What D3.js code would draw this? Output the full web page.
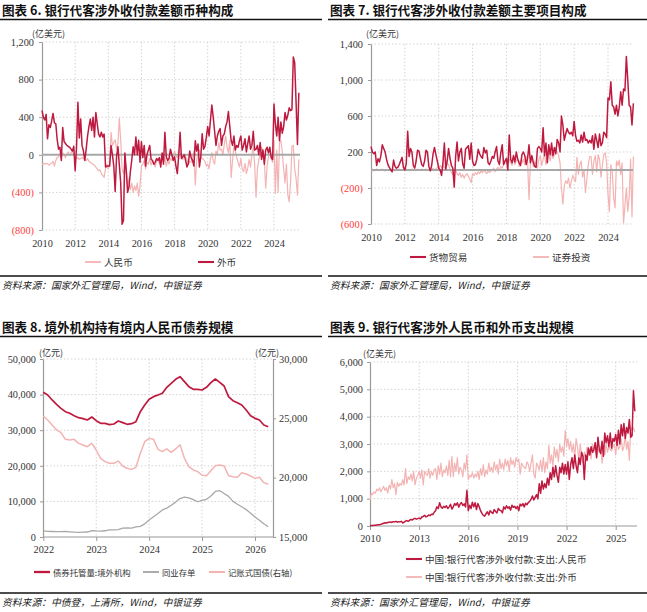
<!DOCTYPE html>
<html><head><meta charset="utf-8">
<script src="https://cdn.jsdelivr.net/npm/d3@7"></script>
<style>body{margin:0;background:#fff}</style>
</head><body><svg id="c" width="647" height="612"></svg>
<script>
// ---------------- DATA ----------------
// Panel 1 (monthly, 2010-01 .. 2025-07), 亿美元
const p1Rmb = [
 -100,-90,-100,-90,-95,-110,-100,-90,-70,-120,-60,-30,
 -20,10,-40,20,0,-30,10,30,-10,20,40,0,
 -20,-40,-30,-50,-40,-30,-40,-50,-60,-40,-70,-80,
 -90,-100,-110,-130,-150,-170,-160,-200,-220,-240,-150,-100,
 -150,-100,240,100,130,160,60,120,390,150,-150,-200,
 -100,-150,-330,-250,-370,-300,-400,-330,-380,-300,-440,-330,
 -120,-100,-60,-150,-80,-100,-40,-110,-60,-90,-130,-60,
 -50,-100,-60,0,-80,-30,-120,-60,-100,-40,-60,-20,
 40,-10,-30,50,20,-20,-50,0,-20,-50,-100,-70,
 -80,-20,40,-320,-60,20,50,-30,-40,-50,-70,-120,
 -100,-150,-40,20,-60,-100,40,0,130,50,60,0,
 110,200,80,20,150,-240,-60,100,40,-30,-80,-130,
 -40,-150,-180,-90,-200,-140,-50,-130,0,80,-100,-450,
 -150,-50,0,80,40,-60,-355,-120,-20,80,-40,-80,
 150,-410,50,-400,130,150,40,-150,-300,-100,-420,-500,
 -300,90,100,-150,-250,-430,-50
];
const p1Fx = [
 470,400,370,430,170,320,290,360,440,340,330,160,
 60,80,-60,290,140,120,100,90,80,60,40,90,
 -170,80,560,180,380,100,40,-60,60,200,300,380,
 260,400,190,450,330,220,190,240,190,220,-130,-120,
 -120,-120,100,0,-120,-390,-20,85,-110,-300,-740,-700,
 20,-160,-400,-340,-180,-55,85,0,190,0,155,-80,
 140,-30,100,-120,0,50,100,-50,-60,-100,-80,-40,
 -60,-30,-130,20,-100,240,-20,-60,-40,60,0,-60,
 -20,-120,-200,-10,240,-40,-20,0,-60,-130,-90,40,
 -30,-60,-120,150,40,115,-130,-20,225,60,90,185,
 300,200,370,530,400,250,100,200,250,280,100,200,
 220,300,350,460,300,150,100,200,50,100,80,150,
 200,50,100,170,30,120,200,60,100,250,50,60,
 100,0,130,-50,50,-100,50,80,20,80,-30,-50,
 540,330,200,400,150,350,230,300,450,370,420,500,
 470,480,1040,980,560,110,660
];
const p1YTicks = [-800,-400,0,400,800,1200];
const p1XTicks = [2010,2012,2014,2016,2018,2020,2022,2024];

// Panel 2 (monthly, 2010-01 .. 2025-07), 亿美元
const p2Goods = [
 260,200,180,200,50,125,90,160,280,240,200,120,
 60,30,0,-20,110,40,20,30,60,100,140,30,
 0,70,430,150,240,200,50,20,100,220,210,130,
 60,40,100,220,200,40,-10,50,180,250,170,100,
 20,0,-60,80,300,10,100,240,130,50,20,-190,
 150,310,100,200,240,70,20,230,250,270,120,300,
 100,50,60,120,230,180,150,130,250,190,220,80,
 60,100,150,130,200,260,100,60,190,280,60,100,
 130,0,390,120,80,160,90,200,120,80,50,170,
 200,160,60,130,280,80,160,90,40,30,240,260,
 240,200,470,160,300,80,280,170,300,160,250,180,
 340,300,200,600,500,330,400,460,420,400,420,380,
 540,380,320,330,300,390,310,420,330,340,300,330,
 300,380,230,400,330,250,400,270,300,420,400,360,
 800,780,980,720,700,620,720,600,700,870,720,900,
 880,1260,1000,720,700,500,740
];
const p2Sec = [
 0,10,-10,0,10,5,-5,0,10,0,-10,0,
 5,0,-5,10,0,-10,5,0,10,0,-5,10,
 0,10,0,-5,5,10,0,5,-5,10,0,5,
 10,0,5,10,-5,0,10,5,20,0,10,30,
 20,50,30,60,20,40,70,60,10,-30,-50,0,
 0,-40,-60,-30,-80,-50,-90,-60,-40,-70,-100,-140,
 -40,-60,-30,-50,-20,-40,-10,-30,0,-20,-40,-10,
 -30,-10,0,20,-20,10,30,0,40,20,60,80,
 100,70,120,80,50,150,60,100,130,40,110,80,
 120,60,150,90,-330,80,130,40,100,60,20,120,
 160,50,120,180,60,140,190,100,200,130,170,220,
 200,160,80,-200,-380,-180,-120,-150,-90,-200,-130,-60,
 -100,-130,140,-50,60,100,-80,0,-250,-100,60,150,
 150,-50,100,160,-20,170,120,-80,50,170,190,80,
 -270,-460,60,-20,-300,-420,100,50,110,-50,80,-590,
 -400,-200,-460,-300,120,-520,150
];
const p2YTicks = [-600,-200,200,600,1000,1400];
const p2XTicks = [2010,2012,2014,2016,2018,2020,2022,2024];

// Panel 3 (monthly, 2022-01 .. 2026-04), 亿元
const p3Custody = [
 40640,39900,38500,37270,36140,35200,34740,34080,33520,33240,32860,33700,
 32680,31930,31930,31550,31740,32580,32120,31650,31840,32400,35200,37080,
 38670,39420,39890,40360,42040,43160,44290,45040,43630,42230,41480,41480,
 41290,42040,43350,44380,43450,42420,39420,38300,37730,37080,35670,34080,
 33330,32870,31460,30990
];
const p3Ncd = [
 1700,1600,1550,1500,1500,1550,1450,1350,1300,1350,1400,1800,
 1700,1650,1750,2000,2000,2050,2500,2550,2500,2850,3000,3700,
 4800,5700,6600,7600,8100,8900,9800,10800,11200,11000,10500,9900,
 10300,10600,11500,12800,13000,12200,11400,10000,9200,8500,7700,6700,
 5600,4700,3700,2900
];
const p3Tbond = [
 25200,24860,24440,24020,23790,23230,23170,23230,22890,22750,22610,22890,
 22330,21630,21350,21210,21210,21400,20980,20790,20700,20870,22050,23030,
 23310,23230,22390,22190,22420,22130,22420,22780,21630,20930,20650,20510,
 20200,20170,20590,21010,21070,20980,20170,20080,20030,20420,20310,20140,
 19940,20030,19580,19440
];
const p3YTicksL = [0,10000,20000,30000,40000,50000];
const p3YTicksR = [15000,20000,25000,30000];
const p3XTicks = [2022,2023,2024,2025,2026];

// Panel 4 (monthly, 2010-01 .. 2026-03), 亿美元
const p4Rmb = [
 10,15,20,25,30,40,45,50,60,80,100,120,
 110,130,140,150,130,160,150,170,140,160,150,170,
 110,140,180,200,170,210,240,220,260,280,250,270,
 290,260,330,350,390,330,360,400,380,430,420,500,
 560,700,640,850,700,650,720,680,740,640,700,790,
 620,700,820,760,850,690,800,860,750,810,700,1310,
 560,760,640,870,700,850,600,820,700,560,460,390,
 360,450,520,400,560,500,460,600,530,480,640,580,
 560,480,700,620,740,650,700,580,760,680,720,640,
 720,560,800,740,820,700,830,780,860,900,980,1100,
 950,1050,1150,1000,1550,1200,1650,1350,1550,1400,1750,1500,
 1950,1700,2150,1800,2200,1850,1600,2150,1950,2300,1900,2250,
 1900,2350,1700,2250,2500,2100,2600,2200,1950,2500,2250,2700,
 2550,1700,2600,2400,2850,2600,2900,2700,2800,3050,2500,3250,
 2800,2650,3100,2550,3400,3050,3300,2900,3400,2850,3200,3100,
 3350,2950,3500,3000,3700,3300,3750,3200,3600,3400,3900,3250,
 3300,4950,4200
];
const p4Fx = [
 950,1200,1150,1250,1200,1350,1300,1400,1250,1350,1450,1300,
 1400,1200,1500,1350,1700,1400,1550,1150,1600,1450,1550,1500,
 1700,1500,2100,1550,1800,1700,1900,1650,2000,1500,1750,1850,
 2000,1750,2050,1500,2000,1900,1850,2100,1750,2000,1850,2050,
 2100,1700,2200,1900,2300,1800,2050,1950,2200,1850,2400,1800,
 2550,1800,2300,2000,2500,1900,2150,2050,1800,2300,2050,2600,
 1700,1850,1800,1950,1750,1900,1800,2000,1700,2100,1850,2250,
 1800,2050,1900,2300,2000,2150,1950,2350,2050,2250,1900,2450,
 2100,2300,2050,2450,2200,2400,2000,2500,2250,2400,2150,2500,
 2350,2450,1900,2300,2200,2150,2100,2350,2250,2000,2300,2600,
 1900,1750,2300,2200,2050,2400,2000,2500,1950,2350,2100,2950,
 2300,2600,2200,2900,2500,2800,2350,3000,2700,2900,2550,3500,
 2900,3200,2800,3100,2700,3000,2500,3200,2900,2400,3000,2600,
 2300,2700,2500,2900,2600,2800,2450,3000,2700,2900,2500,2800,
 2700,2900,2300,2800,2600,3000,2700,2900,2800,2750,2900,3000,
 2600,3100,2800,2900,3200,2750,2900,3300,2800,3100,2400,3600,
 3500,3600,3450
];
const p4YTicks = [0,1000,2000,3000,4000,5000,6000];
const p4XTicks = [2010,2013,2016,2019,2022,2025];

// ---------------- STYLE ----------------
const DARK = "#be1a3f", LIGHT = "#f4b3b3", GRAY = "#a8a8a8";
const CJK = "'Noto Sans CJK SC', sans-serif";
const NUM = "'Liberation Serif', 'Times New Roman', serif";
const GRID = "#d4d4d4";

const svg = d3.select("#c");
svg.append("rect").attr("width",647).attr("height",612).attr("fill","#fff");

const series = (start, arr) => arr.map((v,i) => ({t: start + i/12, v}));
const fmtParen = v => v < 0 ? "(" + d3.format(",")(-v) + ")" : d3.format(",")(v);

function frame(x0, x1, yTitle, title, yBottom, source) {
  svg.append("text").attr("x", x0 + 2).attr("y", yTitle).text(title)
    .attr("font-family", CJK).attr("font-weight", "bold").attr("font-size", 12.6).attr("fill", "#111");
  svg.append("line").attr("x1", x0).attr("x2", x1).attr("y1", yTitle + 4.5).attr("y2", yTitle + 4.5)
    .attr("stroke", "#111").attr("stroke-width", 1.5);
  svg.append("line").attr("x1", x0).attr("x2", x1).attr("y1", yBottom).attr("y2", yBottom)
    .attr("stroke", "#111").attr("stroke-width", 1.3);
  svg.append("text").attr("x", x0 + 2).attr("y", yBottom + 13).text(source)
    .attr("font-family", CJK).attr("font-style", "italic").attr("font-size", 9.8).attr("fill", "#222");
}

function hGrid(ticks, y, xa, xb) {
  svg.append("g").selectAll("line").data(ticks).join("line")
    .attr("x1", xa).attr("x2", xb).attr("y1", d => y(d)).attr("y2", d => y(d))
    .attr("stroke", GRID).attr("stroke-width", 1).attr("stroke-dasharray", "1.5,2");
}
function vGrid(ticks, x, ya, yb) {
  svg.append("g").selectAll("line").data(ticks).join("line")
    .attr("x1", d => x(d)).attr("x2", d => x(d)).attr("y1", ya).attr("y2", yb)
    .attr("stroke", GRID).attr("stroke-width", 1).attr("stroke-dasharray", "1.5,2");
}
function styleAxis(g, negRed) {
  g.select(".domain").attr("stroke", "#9a9a9a").attr("stroke-width", 1.2);
  g.selectAll(".tick line").attr("stroke", "#9a9a9a");
  g.selectAll(".tick text").attr("font-family", NUM).attr("font-size", 10.3).attr("fill", d => (negRed && d < 0) ? "#ff3b3b" : "#333");
}
function drawLine(data, x, y, color, w) {
  svg.append("path").datum(data).attr("fill", "none").attr("stroke", color).attr("stroke-width", w)
    .attr("stroke-linejoin", "round")
    .attr("d", d3.line().x(d => x(d.t)).y(d => y(d.v)));
}
function legendItem(x, y, color, w, label, fs) {
  svg.append("line").attr("x1", x).attr("x2", x + 16).attr("y1", y).attr("y2", y)
    .attr("stroke", color).attr("stroke-width", w + 0.6);
  svg.append("text").attr("x", x + 19).attr("y", y + 3.5).text(label)
    .attr("font-family", CJK).attr("font-size", fs || 9.6).attr("fill", "#333");
}
function unitLabel(x, y, t, anchor) {
  svg.append("text").attr("x", x).attr("y", y).text(t).attr("text-anchor", anchor || "start")
    .attr("font-family", CJK).attr("font-size", 9).attr("fill", "#333");
}

// ---------------- PANEL 1 ----------------
{
  frame(0, 322, 15, "图表 6. 银行代客涉外收付款差额币种构成", 276, "资料来源：国家外汇管理局，Wind，中银证券");
  const x = d3.scaleLinear().domain([2010, 2025.57]).range([42, 300]);
  const y = d3.scaleLinear().domain([-800, 1200]).range([230, 42]);
  hGrid(p1YTicks.filter(d => d !== 0), y, 42, 300);
  vGrid(p1XTicks.slice(1), x, 42, 230);
  const ga = svg.append("g").attr("transform", "translate(42,0)")
    .call(d3.axisLeft(y).tickValues(p1YTicks).tickFormat(fmtParen).tickSize(3).tickSizeOuter(0).tickPadding(5));
  styleAxis(ga, true);
  const gx = svg.append("g").attr("transform", "translate(0,230)")
    .call(d3.axisBottom(x).tickValues(p1XTicks).tickFormat(d3.format("d")).tickSize(0).tickPadding(10));
  gx.select(".domain").remove(); styleAxis(gx, false);
  unitLabel(32, 37, "(亿美元)");
  drawLine(series(2010, p1Rmb), x, y, LIGHT, 1.2);
  svg.append("line").attr("x1", 42).attr("x2", 300).attr("y1", y(0)).attr("y2", y(0)).attr("stroke", GRAY).attr("stroke-width", 2);
  drawLine(series(2010, p1Fx), x, y, DARK, 1.5);
  legendItem(85, 262, LIGHT, 1.2, "人民币");
  legendItem(198, 262, DARK, 1.5, "外币");
}

// ---------------- PANEL 2 ----------------
{
  frame(328, 647, 15, "图表 7. 银行代客涉外收付款差额主要项目构成", 276, "资料来源：国家外汇管理局，Wind，中银证券");
  const x = d3.scaleLinear().domain([2010, 2025.5]).range([371, 633.4]);
  const y = d3.scaleLinear().domain([-600, 1400]).range([224, 44]);
  hGrid(p2YTicks, y, 371, 633);
  vGrid(p2XTicks.slice(1), x, 44, 224);
  const ga = svg.append("g").attr("transform", "translate(371,0)")
    .call(d3.axisLeft(y).tickValues(p2YTicks).tickFormat(fmtParen).tickSize(3).tickSizeOuter(0).tickPadding(5));
  styleAxis(ga, true);
  const gx = svg.append("g").attr("transform", "translate(0,224)")
    .call(d3.axisBottom(x).tickValues(p2XTicks).tickFormat(d3.format("d")).tickSize(0).tickPadding(10));
  gx.select(".domain").remove(); styleAxis(gx, false);
  unitLabel(366, 37, "(亿美元)");
  drawLine(series(2010, p2Sec), x, y, LIGHT, 1.2);
  svg.append("line").attr("x1", 371).attr("x2", 633).attr("y1", y(0)).attr("y2", y(0)).attr("stroke", GRAY).attr("stroke-width", 2);
  drawLine(series(2010, p2Goods), x, y, DARK, 1.5);
  legendItem(410, 257, DARK, 1.5, "货物贸易");
  legendItem(533, 257, LIGHT, 1.2, "证券投资");
}

// ---------------- PANEL 3 ----------------
{
  frame(0, 322, 332, "图表 8. 境外机构持有境内人民币债券规模", 593, "资料来源：中债登，上清所，Wind，中银证券");
  const x = d3.scaleLinear().domain([2022, 2026.34]).range([43.3, 273]);
  const yL = d3.scaleLinear().domain([0, 50000]).range([537, 359]);
  const yR = d3.scaleLinear().domain([15000, 30000]).range([537, 359]);
  hGrid(p3YTicksL.slice(1), yL, 43, 273);
  vGrid(p3XTicks.slice(1), x, 359, 537);
  const ga = svg.append("g").attr("transform", "translate(43,0)")
    .call(d3.axisLeft(yL).tickValues(p3YTicksL).tickFormat(d3.format(",")).tickSize(3).tickSizeOuter(0).tickPadding(4));
  styleAxis(ga, false);
  const gr = svg.append("g").attr("transform", "translate(273,0)")
    .call(d3.axisRight(yR).tickValues(p3YTicksR).tickFormat(d3.format(",")).tickSize(3).tickSizeOuter(0).tickPadding(3));
  styleAxis(gr, false);
  const gx = svg.append("g").attr("transform", "translate(0,537)")
    .call(d3.axisBottom(x).tickValues(p3XTicks).tickFormat(d3.format("d")).tickSize(4).tickSizeOuter(0).tickPadding(5));
  styleAxis(gx, false);
  gx.select(".domain").attr("d", "M43,0H273");
  unitLabel(39, 356, "(亿元)");
  unitLabel(279, 356, "(亿元)", "end");
  drawLine(series(2022, p3Tbond), x, yR, LIGHT, 1.5);
  drawLine(series(2022, p3Ncd), x, yL, GRAY, 1.3);
  drawLine(series(2022, p3Custody), x, yL, DARK, 1.7);
  legendItem(34, 572, DARK, 1.7, "债券托管量:境外机构", 8.4);
  legendItem(143, 572, GRAY, 1.3, "同业存单", 8.4);
  legendItem(209, 572, LIGHT, 1.5, "记账式国债(右轴)", 8.4);
}

// ---------------- PANEL 4 ----------------
{
  frame(328, 647, 332, "图表 9. 银行代客涉外人民币和外币支出规模", 593, "资料来源：国家外汇管理局，Wind，中银证券");
  const x = d3.scaleLinear().domain([2010, 2026.3]).range([370, 637]);
  const y = d3.scaleLinear().domain([0, 6000]).range([526, 362]);
  hGrid(p4YTicks.slice(1), y, 370, 637);
  vGrid(p4XTicks.slice(1), x, 362, 526);
  const ga = svg.append("g").attr("transform", "translate(370,0)")
    .call(d3.axisLeft(y).tickValues(p4YTicks).tickFormat(d3.format(",")).tickSize(3).tickSizeOuter(0).tickPadding(4));
  styleAxis(ga, false);
  const gx = svg.append("g").attr("transform", "translate(0,526)")
    .call(d3.axisBottom(x).tickValues(p4XTicks).tickFormat(d3.format("d")).tickSize(4).tickSizeOuter(0).tickPadding(5));
  styleAxis(gx, false);
  gx.select(".domain").attr("d", "M370,0H637");
  unitLabel(363, 357, "(亿美元)");
  drawLine(series(2010, p4Fx), x, y, LIGHT, 1.2);
  drawLine(series(2010, p4Rmb), x, y, DARK, 1.5);
  legendItem(406, 559, DARK, 1.5, "中国:银行代客涉外收付款:支出:人民币");
  legendItem(406, 577, LIGHT, 1.2, "中国:银行代客涉外收付款:支出:外币");
}
</script></body></html>
